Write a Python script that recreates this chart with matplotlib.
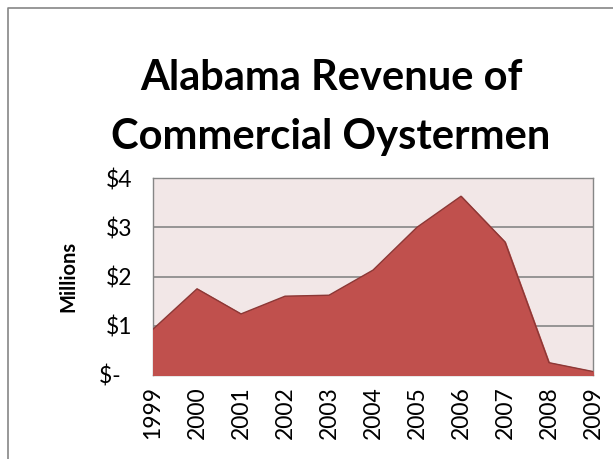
import matplotlib.pyplot as plt
from matplotlib.lines import Line2D

plt.rcParams["font.family"] = ["Lato", "DejaVu Sans"]

years = ["1999", "2000", "2001", "2002", "2003", "2004",
         "2005", "2006", "2007", "2008", "2009"]
revenue = [0.93, 1.75, 1.24, 1.60, 1.62, 2.13, 3.00, 3.63, 2.70, 0.25, 0.07]  # millions $
ytick_vals = [0, 1, 2, 3, 4]
ytick_labels = ["$-  ", "$1", "$2", "$3", "$4"]
title_lines = ["Alabama Revenue of", "Commercial Oystermen"]

W, H = 613, 459
fig = plt.figure(figsize=(W / 100, H / 100), dpi=100)

# outer chart frame: only top and left edges show in the original crop
fx, fy = 7.5 / W, 1 - 7.5 / H
fig.lines.append(Line2D([fx, fx, 1.0], [0.0, fy, fy], transform=fig.transFigure,
                        color="#868686", linewidth=1.2))

ax = fig.add_axes([153 / W, (H - 375) / H, 440 / W, 197 / H])
ax.set_facecolor("#F2E7E7")

x = list(range(len(years)))
ax.fill_between(x, revenue, 0, color="#C0504D", zorder=3)
ax.plot(x, revenue, color="#8C3836", linewidth=1.0, zorder=4)

ax.set_xlim(0, len(years) - 1)
ax.set_ylim(0, 4)
ax.set_yticks(ytick_vals, ytick_labels)
ax.set_xticks(x, years, rotation=90)
ax.yaxis.grid(True, color="#868686", linewidth=1.2, zorder=1)
ax.set_axisbelow(True)
for s in ax.spines.values():
    s.set_color("#868686")
    s.set_linewidth(1.0)
ax.tick_params(axis="both", length=0, labelsize=16.5)
ax.tick_params(axis="y", pad=15)
ax.tick_params(axis="x", pad=8)
ax.set_ylabel("Millions", fontsize=14.5, fontweight="bold", labelpad=15)

# title, one text per line so each baseline sits where the original has it
for line, base_px in zip(title_lines, [90, 149]):
    fig.text(0.54, 1 - base_px / H, line, ha="center", va="baseline",
             fontsize=30, fontweight="bold")

fig.savefig("out.png", dpi=100)
